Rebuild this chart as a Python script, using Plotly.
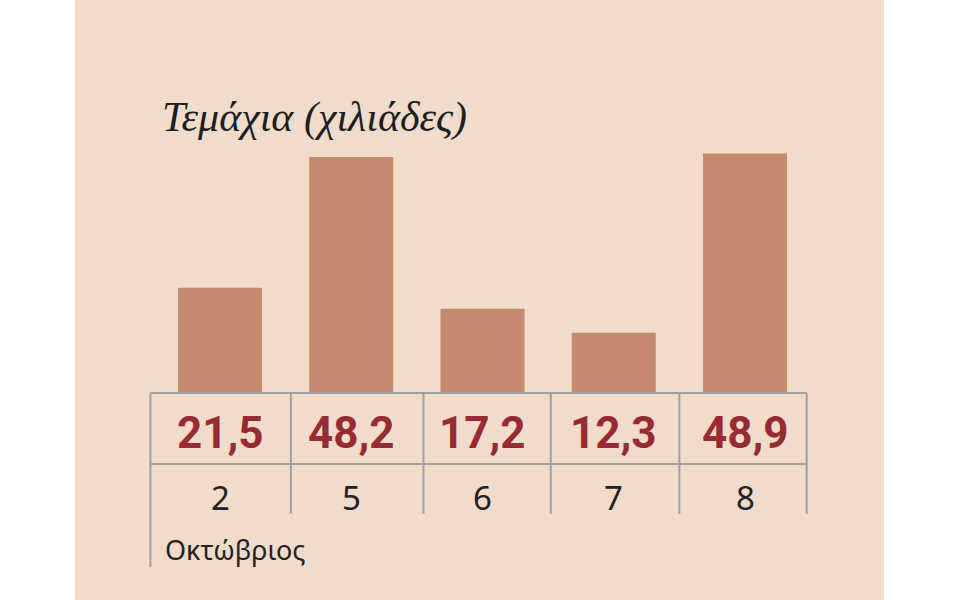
import plotly.graph_objects as go

# data
days = ["2", "5", "6", "7", "8"]
pieces = [21.5, 48.2, 17.2, 12.3, 48.9]
value_labels = ["21,5", "48,2", "17,2", "12,3", "48,9"]
month = "Οκτώβριος"
title = "Τεμάχια (χιλιάδες)"

BG = "#f1dbcb"
BAR = "#c38a6e"
RED = "#982a33"
GRID = "#9da1a6"

x = list(range(len(days)))

fig = go.Figure()
fig.add_trace(go.Bar(
    x=x, y=pieces, width=0.64,
    marker=dict(color=BAR, line=dict(width=0)),
    hoverinfo="skip",
))

# table lines under the bars
edges = [-0.53, 0.54, 1.55, 2.52, 3.5, 4.47]
row1, row2 = 0, -14.5
shapes = [
    dict(type="rect", xref="paper", yref="paper", x0=75 / 960, x1=884 / 960,
         y0=0, y1=1, fillcolor=BG, line=dict(width=0), layer="below"),
    dict(type="line", x0=edges[0], x1=edges[-1], y0=row1, y1=row1,
         line=dict(color=GRID, width=2)),
    dict(type="line", x0=edges[0], x1=edges[-1], y0=row2, y1=row2,
         line=dict(color=GRID, width=2)),
]
for i, e in enumerate(edges):
    bottom = -35.5 if i == 0 else -24.7
    shapes.append(dict(type="line", x0=e, x1=e, y0=row1, y1=bottom,
                       line=dict(color=GRID, width=2)))

annotations = []
for xi, lab, d in zip(x, value_labels, days):
    annotations.append(dict(
        x=xi, y=-8.2, text=f"<b>{lab}</b>", showarrow=False,
        font=dict(family="Roboto", size=44, color=RED),
    ))
    annotations.append(dict(
        x=xi, y=-21.3, text=d, showarrow=False,
        font=dict(family="Noto Sans, Open Sans", size=33, color="#222222"),
    ))
annotations.append(dict(
    x=163 / 960, y=1 - 549 / 600, xref="paper", yref="paper",
    xanchor="left", yanchor="middle",
    text=month, showarrow=False,
    font=dict(family="Noto Sans, Open Sans", size=27, color="#222222"),
))
annotations.append(dict(
    x=160 / 960, y=1 - 117 / 600, xref="paper", yref="paper",
    xanchor="left", yanchor="middle",
    text=f"<i>{title}</i>", showarrow=False,
    font=dict(family="Liberation Serif, DejaVu Serif", size=42, color="#1e1e1e"),
))

fig.update_layout(
    width=960, height=600,
    margin=dict(l=0, r=0, t=0, b=0),
    paper_bgcolor="white", plot_bgcolor="rgba(0,0,0,0)",
    showlegend=False,
    shapes=shapes, annotations=annotations,
    xaxis=dict(range=[-220 / 131.25, 740 / 131.25], visible=False, fixedrange=True),
    yaxis=dict(range=[-207 / 4.896, 393 / 4.896], visible=False, fixedrange=True),
)

fig.write_html("out.html", config={"displayModeBar": False},
               post_script="document.body.style.margin='0';")
